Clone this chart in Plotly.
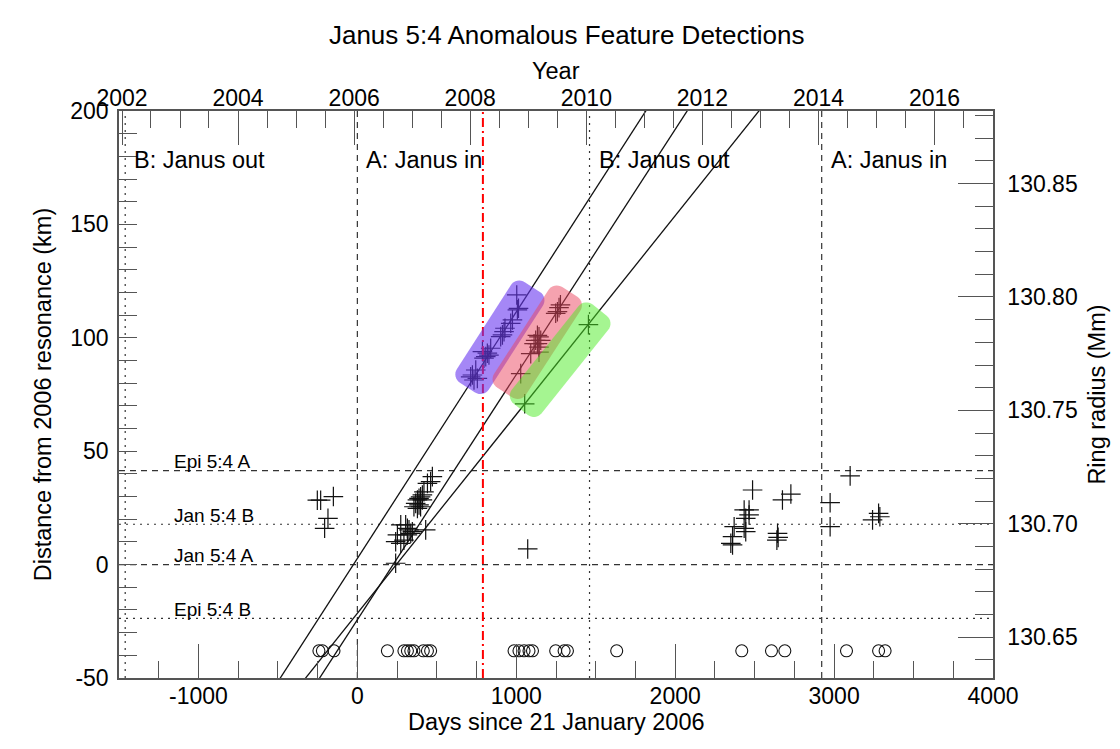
import math
from datetime import date

import plotly.graph_objects as go

# ---------------------------------------------------------------------------
# Data
# ---------------------------------------------------------------------------
EPOCH = date(2006, 1, 21)  # day 0 of the time axis

# Observation epochs (days since 21 Jan 2006), drawn as open circles
OBS_DAYS = [-242, -220, -147, 189, 293, 315, 336, 356, 415, 441, 461,
            986, 1017, 1049, 1080, 1102, 1248, 1301, 1322, 1632,
            2419, 2606, 2690, 3078, 3280, 3321]
OBS_MARK_KM = -38

# Anomalous feature detections: time and radial distance from the 2006 resonance
DET_DAYS = [
    # 2005
    -252, -231, -151, -185, -206,
    # 2006-2007
    472, 461, 441, 419, 409, 398, 388, 378, 409, 367, 388, 398, 356, 378,
    273, 304, 315, 325, 336, 315, 346, 430, 252, 241, 273, 293, 241,
    # 2008 (first drifting group)
    1003, 1014, 1007, 976, 965, 929, 923, 913, 902, 839, 818, 828, 808, 797,
    787, 745, 724, 713, 755, 734,
    # 2008-2009 (second drifting group)
    1278, 1269, 1248, 1259, 1133, 1143, 1122, 1154, 1133, 1112, 1143, 1091,
    1143, 1028,
    # 2009-2010 (third drifting group)
    1454, 1053,
    1072,
    # 2012-2015
    2487, 2434, 2465, 2465, 2444, 2371, 2361, 2350, 2361, 2434, 2444,
    2675, 2728, 2644, 2648, 2640, 3101, 2975, 2975, 3242, 3280, 3288,
]
DET_KM = [
    28.4, 28.4, 30.0, 20.4, 16.0,
    38.8, 36.6, 35.8, 32.1, 30.7, 29.9, 29.2, 28.5, 28.5, 27.0, 26.3, 25.5, 25.5, 24.8,
    17.5, 17.5, 16.0, 15.3, 13.8, 13.1, 14.5, 15.3, 13.1, 10.1, 9.4, 10.8, 0.6,
    118.9, 113.0, 112.3, 107.9, 106.4, 104.2, 102.7, 101.3, 100.5, 95.4, 93.2, 92.4, 91.7, 91.0,
    93.9, 85.8, 83.6, 82.8, 82.1, 81.4,
    114.5, 113.3, 110.8, 111.5, 101.1, 100.4, 98.9, 98.9, 97.4, 97.4, 95.9, 93.0,
    93.7, 84.2,
    105.8, 70.9,
    6.9,
    32.9, 24.1, 24.1, 21.9, 20.4, 16.7, 12.3, 9.4, 8.7, 16.0, 14.5,
    28.5, 31.1, 13.8, 12.0, 10.8, 39.1, 27.3, 16.7, 19.7, 22.6, 21.1,
]

# Drift tracks: km = rate * (day - zero_day)
TRACK_ZERO_DAY = [-25, 225, 245]
TRACK_RATE = [0.1087, 0.1081, 0.08765]  # km/day

# Highlighted segments along each track (start / end day)
BAND_TRACK = [0, 1, 2]
BAND_START = [693, 927, 1027]
BAND_END = [1101, 1337, 1525]
BAND_COLOR = ["rgba(105, 55, 240, 0.6)", "rgba(235, 70, 95, 0.5)", "rgba(75, 235, 35, 0.5)"]

# Resonance locations (km from the 2006 Janus 5:4 resonance)
RES_NAMES = ["Epi 5:4 A", "Jan 5:4 B", "Jan 5:4 A", "Epi 5:4 B"]
RES_KM = [41.4, 17.8, 0.0, -23.7]

# Co-orbital swaps of Janus and Epimetheus
SWAP_DAYS = [-1461, 0, 1461, 2922]
SWAP_LABELS = ["B: Janus out", "A: Janus in", "B: Janus out", "A: Janus in"]

EVENT_DAY = 790  # red dash-dot epoch

YEAR_LABELS = [2002, 2004, 2006, 2008, 2010, 2012, 2014, 2016]
DAY_TICKS = [-1000, 0, 1000, 2000, 3000, 4000]
KM_TICKS = [-50, 0, 50, 100, 150, 200]
RESONANCE_RADIUS_MM = 130.682  # ring radius at 0 km

# ---------------------------------------------------------------------------
# Geometry
# ---------------------------------------------------------------------------
W, H = 1120, 749
PLOT_L, PLOT_R, PLOT_T, PLOT_B = 119, 993, 111, 678
XR = [-1500, 4000]
YR = [-50, 200]
Y2R = [RESONANCE_RADIUS_MM + YR[0] / 1000.0, RESONANCE_RADIUS_MM + YR[1] / 1000.0]

FONT = "Liberation Sans, Arial, Helvetica, sans-serif"
AX_COLOR = "#555555"


def year_day(y, m=1, d=1):
    return (date(y, m, d) - EPOCH).days


year_tick_days = [year_day(y) for y in YEAR_LABELS]
year_minor_days = []
for y in range(2002, 2018):
    year_minor_days.append(year_day(y))
    year_minor_days.append(year_day(y, 7, 2))


def band_path(track, d0, d1, half_w=19.0, rad=10.0):
    sx = (PLOT_R - PLOT_L) / (XR[1] - XR[0])
    sy = (PLOT_B - PLOT_T) / (YR[1] - YR[0])

    def to_px(day, km):
        return PLOT_L + (day - XR[0]) * sx, PLOT_B - (km - YR[0]) * sy

    def to_data(px, py):
        return XR[0] + (px - PLOT_L) / sx, YR[0] + (PLOT_B - py) / sy

    z, r = TRACK_ZERO_DAY[track], TRACK_RATE[track]
    x0, y0 = to_px(d0, (d0 - z) * r)
    x1, y1 = to_px(d1, (d1 - z) * r)
    L = math.hypot(x1 - x0, y1 - y0)
    ux, uy = (x1 - x0) / L, (y1 - y0) / L
    nx, ny = -uy, ux
    corners = [
        (L - rad, -(half_w - rad), -90, 0),
        (L - rad, half_w - rad, 0, 90),
        (rad, half_w - rad, 90, 180),
        (rad, -(half_w - rad), 180, 270),
    ]
    pts = []
    for cs, ct, a0, a1 in corners:
        for k in range(9):
            a = math.radians(a0 + (a1 - a0) * k / 8)
            s = cs + rad * math.cos(a)
            t = ct + rad * math.sin(a)
            px = x0 + s * ux + t * nx
            py = y0 + s * uy + t * ny
            pts.append(to_data(px, py))
    return "M " + " L ".join(f"{a:.3f},{b:.3f}" for a, b in pts) + " Z"


# ---------------------------------------------------------------------------
# Figure
# ---------------------------------------------------------------------------
fig = go.Figure()

# drift tracks
for z, r in zip(TRACK_ZERO_DAY, TRACK_RATE):
    kms = [YR[0] - 20, YR[1] + 20]
    fig.add_trace(go.Scatter(
        x=[z + k / r for k in kms], y=kms, mode="lines",
        line=dict(color="#111111", width=1.3), hoverinfo="skip",
    ))

# observation epochs
fig.add_trace(go.Scatter(
    x=OBS_DAYS, y=[OBS_MARK_KM] * len(OBS_DAYS), mode="markers",
    marker=dict(symbol="circle-open", size=12, color="#111111", line=dict(width=1.1)),
))

# detections
fig.add_trace(go.Scatter(
    x=DET_DAYS, y=DET_KM, mode="markers",
    marker=dict(symbol="cross-thin-open", size=14, color="#111111",
                line=dict(width=1.2, color="#111111")),
))

# invisible trace for the secondary axes
fig.add_trace(go.Scatter(
    x=[XR[0]], y=[Y2R[0]], xaxis="x2", yaxis="y2", mode="markers",
    marker=dict(opacity=0), hoverinfo="skip",
))

shapes = []
# resonance levels
for name, km in zip(RES_NAMES, RES_KM):
    dash = "6px,5px" if name.endswith("A") else "2px,5px"
    shapes.append(dict(type="line", xref="paper", yref="y", x0=0, x1=1, y0=km, y1=km,
                       line=dict(color="#333333", width=1.2, dash=dash), layer="below"))
# swap epochs
for d, lab in zip(SWAP_DAYS, SWAP_LABELS):
    dash = "6px,5px" if lab.startswith("A") else "2px,5px"
    shapes.append(dict(type="line", xref="x", yref="paper", x0=d, x1=d, y0=0, y1=1,
                       line=dict(color="#333333", width=1.2, dash=dash), layer="below"))
# event epoch
shapes.append(dict(type="line", xref="x", yref="paper", x0=EVENT_DAY, x1=EVENT_DAY, y0=0, y1=1,
                   line=dict(color="#ff0000", width=2, dash="9px,4px,2px,4px"), layer="above"))
# highlighted segments
for tr, d0, d1, col in zip(BAND_TRACK, BAND_START, BAND_END, BAND_COLOR):
    shapes.append(dict(type="path", xref="x", yref="y", path=band_path(tr, d0, d1),
                       fillcolor=col, line=dict(width=0), layer="above"))

annotations = []
for name, km in zip(RES_NAMES, RES_KM):
    annotations.append(dict(text=name, xref="paper", yref="y", x=0.0607, y=km,
                            xanchor="left", yanchor="middle", yshift=9, showarrow=False,
                            font=dict(size=19, color="black", family=FONT)))
for d, lab in zip(SWAP_DAYS, SWAP_LABELS):
    annotations.append(dict(text=lab, xref="x", yref="paper", x=d, y=0.9136,
                            xanchor="left", yanchor="middle", xshift=7, showarrow=False,
                            font=dict(size=23.5, color="black", family=FONT)))
# axis titles for the time axes
annotations.append(dict(text="Year", xref="paper", yref="paper", x=0.5,
                        y=(PLOT_B - 71) / (PLOT_B - PLOT_T), xanchor="center", yanchor="middle",
                        showarrow=False, font=dict(size=23.5, color="black", family=FONT)))
annotations.append(dict(text="Days since 21 January 2006", xref="paper", yref="paper", x=0.5,
                        y=(PLOT_B - 722) / (PLOT_B - PLOT_T), xanchor="center", yanchor="middle",
                        showarrow=False, font=dict(size=23.5, color="black", family=FONT)))

tick_common = dict(ticks="inside", tickcolor=AX_COLOR, tickwidth=1.2,
                   showline=True, linecolor=AX_COLOR, linewidth=1.5,
                   showgrid=False, zeroline=False,
                   tickfont=dict(size=23, color="black", family=FONT))

fig.update_layout(
    width=W, height=H,
    margin=dict(l=PLOT_L, r=W - PLOT_R, t=PLOT_T, b=H - PLOT_B),
    paper_bgcolor="white", plot_bgcolor="white",
    showlegend=False,
    font=dict(family=FONT, color="black"),
    title=dict(text="Janus 5:4 Anomalous Feature Detections", x=0.506, xanchor="center",
               y=1 - 35 / H, yanchor="middle", font=dict(size=26, color="black", family=FONT)),
    xaxis=dict(range=XR, tickmode="array", tickvals=DAY_TICKS,
               ticktext=[str(v) for v in DAY_TICKS], ticklen=34, ticklabelstandoff=-3,
               minor=dict(dtick=250, tick0=0, ticks="inside", ticklen=17,
                          tickcolor=AX_COLOR, tickwidth=1.2),
               **tick_common),
    xaxis2=dict(range=XR, overlaying="x", side="top", anchor="y",
                tickmode="array", tickvals=year_tick_days, ticktext=[str(y) for y in YEAR_LABELS],
                ticklen=34, ticklabelstandoff=-6,
                minor=dict(tickmode="array", tickvals=year_minor_days, ticks="inside",
                           ticklen=17, tickcolor=AX_COLOR, tickwidth=1.2),
                **tick_common),
    yaxis=dict(range=YR, tickmode="array", tickvals=KM_TICKS,
               ticktext=[str(v) for v in KM_TICKS], ticklen=18, ticklabelstandoff=4,
               minor=dict(dtick=10, tick0=0, ticks="inside", ticklen=18,
                          tickcolor=AX_COLOR, tickwidth=1.2),
               title=dict(text="Distance from 2006 resonance (km)", standoff=12,
                          font=dict(size=23.5, color="black", family=FONT)),
               **tick_common),
    yaxis2=dict(range=Y2R, overlaying="y", side="right", anchor="x",
                tick0=130.65, dtick=0.05, tickformat=".2f", ticklen=35, ticklabelstandoff=8,
                minor=dict(dtick=0.01, tick0=130.65, ticks="inside", ticklen=18,
                           tickcolor=AX_COLOR, tickwidth=1.2),
                title=dict(text="Ring radius (Mm)", standoff=12,
                           font=dict(size=23.5, color="black", family=FONT)),
                **tick_common),
    shapes=shapes,
    annotations=annotations,
)

fig.write_html("out.html")
